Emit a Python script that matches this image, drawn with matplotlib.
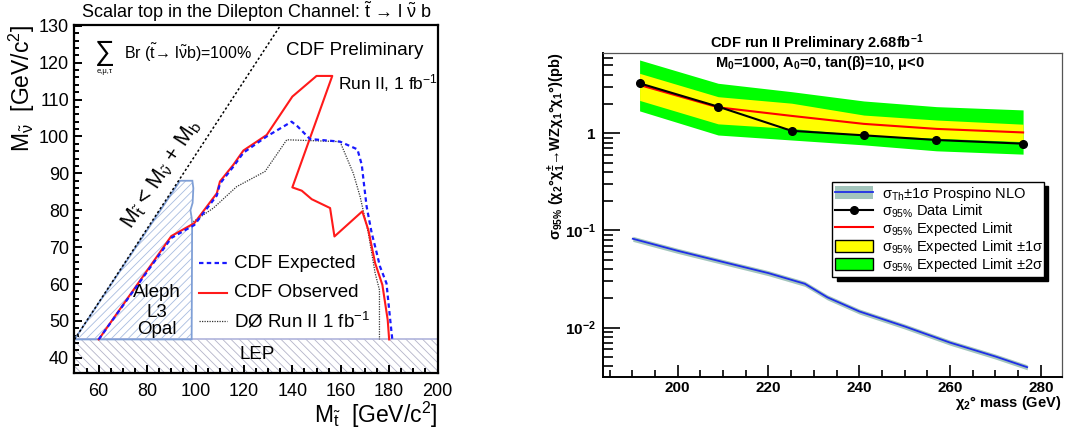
import numpy as np
import matplotlib
matplotlib.use("Agg")
import matplotlib.pyplot as plt
from matplotlib.patches import Patch, Polygon
from matplotlib.lines import Line2D
from matplotlib.ticker import MultipleLocator, FixedLocator, LogLocator, FuncFormatter, NullFormatter

plt.rcParams['font.family'] = ['Liberation Sans', 'DejaVu Sans']
plt.rcParams['mathtext.fontset'] = 'custom'
plt.rcParams['mathtext.rm'] = 'Liberation Sans'
plt.rcParams['mathtext.it'] = 'Liberation Sans:italic'
plt.rcParams['mathtext.bf'] = 'Liberation Sans:bold'
plt.rcParams['mathtext.default'] = 'regular'
plt.rcParams['hatch.linewidth'] = 0.6

# ---- left panel: stop / sneutrino exclusion ----
obs_x = [60, 90, 99.5, 108.8, 110.1, 115.6, 119.8, 129.4, 140, 150, 156.5, 140, 143.9, 148, 155.6, 157.4, 168.9, 171.4, 174.2, 177.2, 179.4, 180]
obs_y = [45, 73, 76.5, 84.6, 87.8, 92.3, 96.2, 100.4, 110.8, 116.4, 116.4, 86.2, 85.3, 83, 80.6, 72.9, 79.7, 74.7, 65.7, 59.8, 50.3, 45]

exp_x = [60, 90, 99.5, 108.8, 110.1, 115.6, 119.8, 129.4, 139.7, 142.2, 147.3, 159.7, 166.9, 168.7, 169.4, 170.7, 172.8, 174.2, 176.2, 178.9, 180.3, 181.3]
exp_y = [45, 72.5, 76, 84, 87.2, 91.8, 95.6, 100, 104, 102.7, 99.3, 98.6, 96.5, 92.3, 88.2, 81, 73.8, 70.2, 64.8, 60.2, 51.2, 45]

d0_x = [99.1, 107.4, 117, 128.7, 134.9, 137.7, 159.7, 165.2, 168, 171.4, 174.2, 176, 176]
d0_y = [76.9, 80.6, 86.4, 90.5, 96.4, 99.1, 98.6, 90, 83.7, 73.8, 63, 58.4, 45]

lep_x = [50, 200, 200, 50]
lep_y = [35.9, 35.9, 45, 45]

aleph_x = [50, 93.6, 98.7, 99.1, 98.8, 97.9, 98.4, 98.6, 98.4]
aleph_y = [45, 88, 88, 86, 82, 80, 78, 76, 45]

kin_x = [50, 135]
m_b = 5

# ---- right panel: chargino/neutralino limits ----
mass = [191.6, 208.9, 225.1, 241.0, 257.0, 276.1]
data_limit = [3.27, 1.88, 1.06, 0.953, 0.853, 0.782]
exp_limit = [3.14, 1.85, 1.51, 1.25, 1.11, 1.02]
exp_1s_lo = [2.18, 1.25, 1.12, 0.96, 0.89, 0.82]
exp_1s_hi = [4.14, 2.38, 2.04, 1.54, 1.37, 1.24]
exp_2s_lo = [1.70, 0.96, 0.853, 0.76, 0.66, 0.61]
exp_2s_hi = [5.68, 3.27, 2.68, 2.15, 1.88, 1.74]

th_mass = [190.1, 200, 210, 220, 228, 233, 240, 250, 260, 270, 277]
th_xsec = [0.0822, 0.0618, 0.0474, 0.0364, 0.0283, 0.0205, 0.0147, 0.0103, 0.00702, 0.00505, 0.00392]
th_err = 0.06

fig = plt.figure(figsize=(10.86, 4.45), dpi=100)

# ================= left =================
ax = fig.add_axes([0.0686, 0.1618, 0.3343, 0.782])
ax.set_xlim(50, 200)
ax.set_ylim(35.9, 130.2)

ax.add_patch(Polygon(list(zip(lep_x, lep_y)), closed=True, facecolor='none',
                     edgecolor='#b4b4c8', hatch='\\\\\\\\', lw=0, zorder=1))
ax.add_patch(Polygon(list(zip(lep_x, lep_y)), closed=True, facecolor='none',
                     edgecolor='#b0b4dc', lw=1.2, zorder=1))
ax.add_patch(Polygon(list(zip(aleph_x, aleph_y)), closed=True, facecolor='none',
                     edgecolor='#a8bce0', hatch='////', lw=0, zorder=1))
ax.add_patch(Polygon(list(zip(aleph_x, aleph_y)), closed=True, facecolor='none',
                     edgecolor='#7f9fd6', lw=1.3, zorder=2))

kx = np.array(kin_x)
ax.plot(kx, kx - m_b, color='black', ls=(0, (1.5, 1.5)), lw=1.1, zorder=3)

ax.plot(obs_x, obs_y, color='#ff1a1a', lw=1.5, zorder=4)
ax.plot(exp_x, exp_y, color='#1a1aff', lw=1.6, ls=(0, (2, 1.5)), zorder=5)
ax.plot(d0_x, d0_y, color='#333333', lw=0.9, ls=(0, (1, 1)), zorder=3)

for s in ax.spines.values():
    s.set_linewidth(1.6)
ax.xaxis.set_major_locator(MultipleLocator(20))
ax.xaxis.set_minor_locator(MultipleLocator(5))
ax.yaxis.set_major_locator(MultipleLocator(10))
ax.yaxis.set_minor_locator(MultipleLocator(2))
ax.tick_params(which='both', direction='in', top=False, right=False, width=1.4, labelsize=13)
ax.tick_params(which='major', length=6)
ax.tick_params(which='minor', length=3.5)
ax.tick_params(axis='x', pad=7)
ax.tick_params(axis='y', pad=4)
ax.set_xticks([60, 80, 100, 120, 140, 160, 180, 200])
ax.set_yticks([40, 50, 60, 70, 80, 90, 100, 110, 120, 130])

ax.text(0.5, 1.039, r"Scalar top in the Dilepton Channel: $\tilde{t}$ → l $\tilde{\nu}$ b",
        transform=ax.transAxes, ha='center', va='center', fontsize=13)
ax.text(-0.145, 1.0, r"M$_{\tilde{\nu}}$  [GeV/c$^{2}$]", transform=ax.transAxes,
        rotation=90, ha='center', va='top', fontsize=16.5)
ax.text(1.0, -0.12, r"M$_{\tilde{t}}$  [GeV/c$^{2}$]", transform=ax.transAxes,
        ha='right', va='center', fontsize=16.5)

ax.text(62.6, 122.6, "∑", fontsize=20, ha='center', va='center')
ax.text(62.6, 117.6, "e,μ,τ", fontsize=5.5, ha='center', va='center')
ax.text(70.5, 122.5, r"Br ($\tilde{t}$→ l$\tilde{\nu}$b)=100%", fontsize=11.5, ha='left', va='center')
ax.text(137.5, 123.2, "CDF Preliminary", fontsize=13.5, ha='left', va='center')
ax.text(159, 114.6, r"Run II, 1 fb$^{-1}$", fontsize=12.5, ha='left', va='center')
ax.text(85.8, 89.8, r"M$_{\tilde{t}}$ < M$_{\tilde{\nu}}$ + M$_{b}$", fontsize=15.5,
        rotation=56.7, ha='center', va='center', rotation_mode='anchor')

ax.text(84, 57.6, "Aleph", fontsize=13.5, ha='center', va='center')
ax.text(84, 52.3, "L3", fontsize=13.5, ha='center', va='center')
ax.text(84, 47.8, "Opal", fontsize=13.5, ha='center', va='center')
ax.text(125.3, 40.8, "LEP", fontsize=13.5, ha='center', va='center')

leg_y = [65.7, 57.6, 49.9]
ax.plot([101.3, 112.9], [leg_y[0]] * 2, color='#1a1aff', lw=1.6, ls=(0, (2, 1.5)))
ax.plot([101.3, 112.9], [leg_y[1]] * 2, color='#ff1a1a', lw=1.5)
ax.plot([101.3, 112.9], [leg_y[2]] * 2, color='#333333', lw=0.9, ls=(0, (1, 1)))
ax.text(116, leg_y[0], "CDF Expected", fontsize=13.5, ha='left', va='center')
ax.text(116, leg_y[1], "CDF Observed", fontsize=13.5, ha='left', va='center')
ax.text(116, leg_y[2], r"DØ Run II 1 fb$^{-1}$", fontsize=13.5, ha='left', va='center')

# ================= right =================
bx = fig.add_axes([0.5555, 0.1535, 0.4221, 0.7281])
bx.set_yscale('log')
bx.set_xlim(183.6, 284.6)
bx.set_ylim(0.00313, 6.75)

bx.fill_between(mass, exp_2s_lo, exp_2s_hi, color='#00ff00', lw=0, zorder=1)
bx.fill_between(mass, exp_1s_lo, exp_1s_hi, color='#ffff00', lw=0, zorder=2)
bx.plot(mass, exp_limit, color='#ff0000', lw=1.5, zorder=3)
bx.plot(mass, data_limit, color='black', lw=1.5, marker='o', ms=5.5, zorder=4)

th = np.array(th_xsec)
bx.fill_between(th_mass, th * (1 - th_err), th * (1 + th_err), color='#a3c5bc', lw=0, zorder=1)
bx.plot(th_mass, th_xsec, color='#1f2ee6', lw=1.3, zorder=2)

bx.spines['left'].set_linewidth(1.4)
bx.spines['bottom'].set_linewidth(1.4)
bx.spines['top'].set_linewidth(0.9)
bx.spines['right'].set_linewidth(0.9)
bx.spines['top'].set_color('#555555')
bx.spines['right'].set_color('#555555')

bx.xaxis.set_major_locator(FixedLocator([200, 220, 240, 260, 280]))
bx.xaxis.set_minor_locator(MultipleLocator(5))
bx.yaxis.set_major_locator(FixedLocator([0.01, 0.1, 1]))
bx.yaxis.set_minor_locator(LogLocator(base=10, subs=np.arange(2, 10)))
bx.yaxis.set_minor_formatter(NullFormatter())


def ylab(v, pos):
    if v >= 1:
        return r"$\mathbf{1}$"
    return r"$\mathbf{10^{%d}}$" % int(round(np.log10(v)))


bx.yaxis.set_major_formatter(FuncFormatter(ylab))
bx.tick_params(which='both', direction='in', top=False, right=False, width=1.2)
bx.tick_params(axis='x', which='major', length=9, pad=3, labelsize=11)
bx.tick_params(axis='x', which='minor', length=5)
bx.tick_params(axis='y', which='major', length=12, pad=5, labelsize=11)
bx.tick_params(axis='y', which='minor', length=7)
for lab in bx.get_xticklabels():
    lab.set_fontweight('bold')

bx.text(0.4655, 1.03, r"CDF run II Preliminary 2.68fb$^{-1}$", transform=bx.transAxes,
        ha='center', va='center', fontsize=10.5, fontweight='bold')
bx.text(0.4726, 0.968, r"M$_{0}$=1000, A$_{0}$=0, tan(β)=10, μ<0", transform=bx.transAxes,
        ha='center', va='center', fontsize=10.5, fontweight='bold')
bx.text(-0.1, 1.0, r"σ$_{95\%}$ (χ$_{2}$°χ$_{1}^{\pm}$→WZχ$_{1}$°χ$_{1}$°)(pb)", transform=bx.transAxes,
        rotation=90, ha='center', va='top', fontsize=10.5, fontweight='bold')
bx.text(1.0, -0.08, r"χ$_{2}$° mass (GeV)", transform=bx.transAxes,
        ha='right', va='center', fontsize=10.5, fontweight='bold')

handles = [
    (Patch(facecolor='#a3c5bc', edgecolor='none'), Line2D([], [], color='#1f2ee6', lw=1.3)),
    Line2D([], [], color='black', lw=1.5, marker='o', ms=5.5),
    Line2D([], [], color='#ff0000', lw=1.5),
    Patch(facecolor='#ffff00', edgecolor='black', lw=1),
    Patch(facecolor='#00ff00', edgecolor='black', lw=1),
]
labels = [
    r"σ$_{Th}$±1σ Prospino NLO",
    r"σ$_{95\%}$ Data Limit",
    r"σ$_{95\%}$ Expected Limit",
    r"σ$_{95\%}$ Expected Limit ±1σ",
    r"σ$_{95\%}$ Expected Limit ±2σ",
]
leg = bx.legend(handles, labels, loc='upper left', bbox_to_anchor=(0.5, 0.314, 0.461, 0.288),
                mode='expand', fontsize=10.5, frameon=True, fancybox=False, framealpha=1,
                edgecolor='black', borderaxespad=0, handlelength=2.6, handletextpad=0.6,
                handleheight=0.9, labelspacing=0.0, borderpad=0.2,
                shadow={'color': 'black', 'alpha': 1, 'ox': 3, 'oy': -3})
leg.get_frame().set_linewidth(1.0)
leg.set_zorder(10)

fig.savefig("out.png", dpi=100)
